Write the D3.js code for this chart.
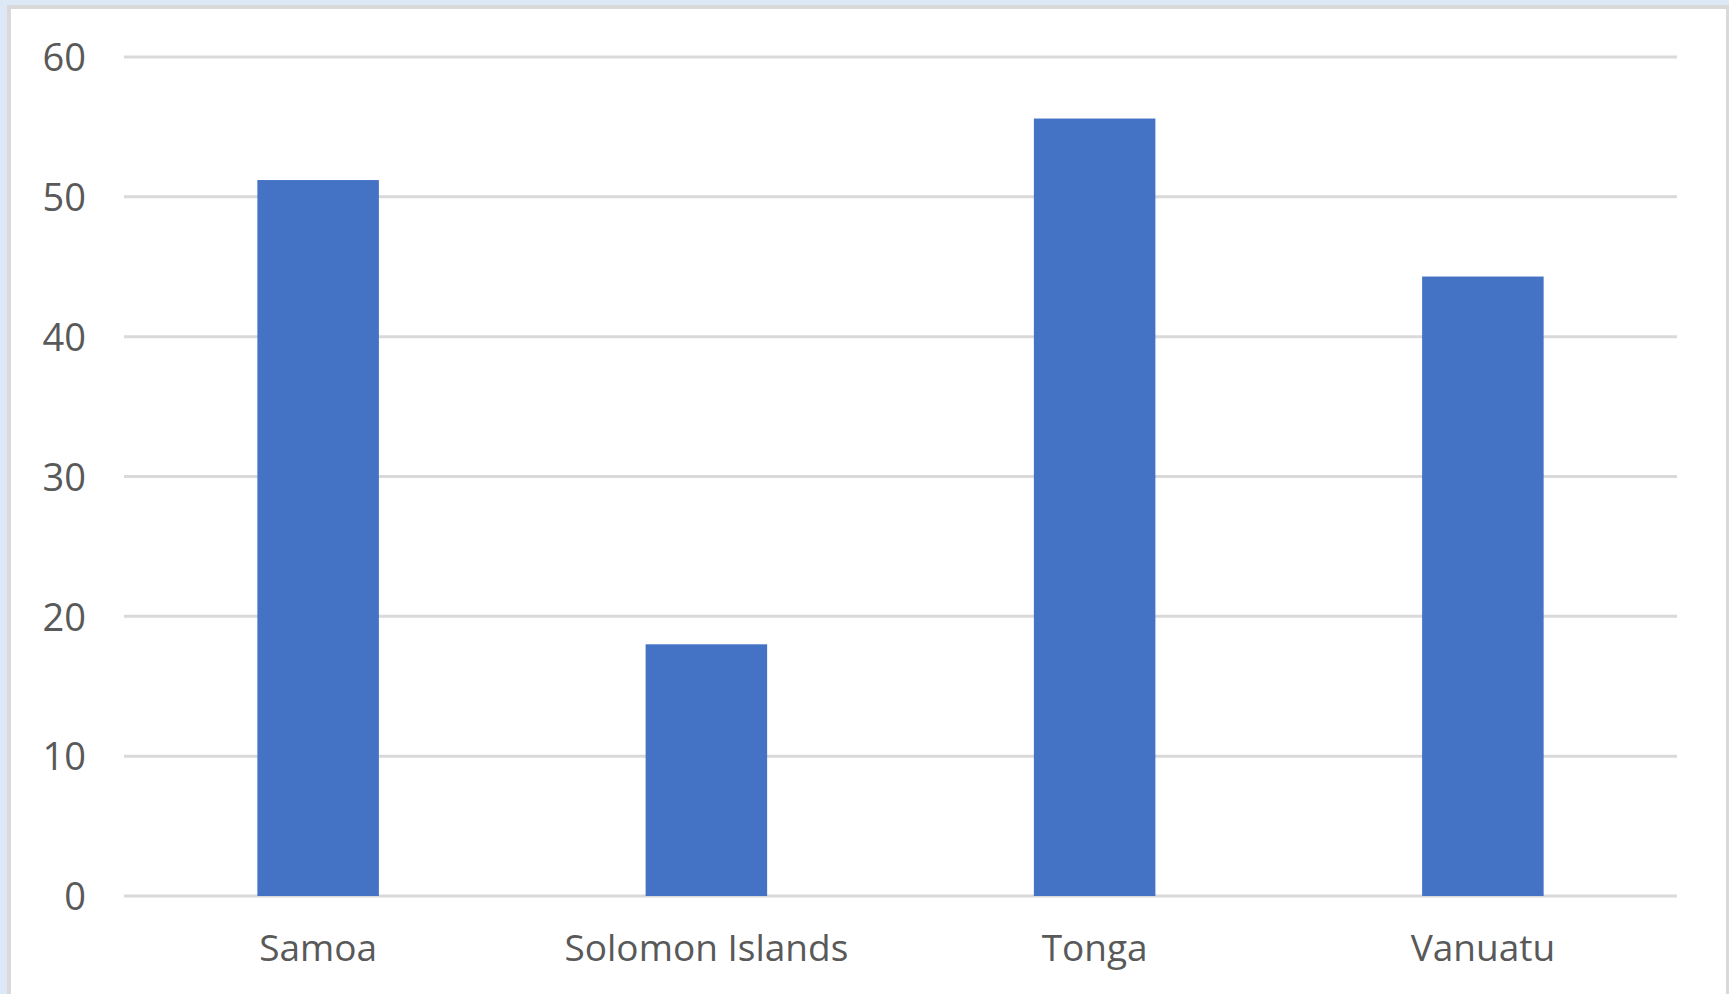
<!DOCTYPE html>
<html>
<head>
<meta charset="utf-8">
<script src="https://cdn.jsdelivr.net/npm/d3@7/dist/d3.min.js"></script>
<style>
  html, body { margin: 0; padding: 0; background: #dce8f5; overflow: hidden; }
  svg { display: block; }
  .axis text { font-family: "Open Sans", "Noto Sans", sans-serif; fill: #595959; }
</style>
</head>
<body>
<div id="chart"></div>
<script>
// values
var countries = ["Samoa", "Solomon Islands", "Tonga", "Vanuatu"];
var values = [51.2, 18.0, 55.6, 44.3];
var yTicks = [0, 10, 20, 30, 40, 50, 60];

var W = 1729, H = 994;
var margin = {top: 57, right: 52, bottom: 98, left: 124},
    width = W - margin.left - margin.right,
    height = H - margin.top - margin.bottom;

var svg = d3.select("#chart").append("svg")
    .attr("width", W)
    .attr("height", H);

// white panel with light grey frame
svg.append("rect")
    .attr("x", 9).attr("y", 7)
    .attr("width", W - 9 - 1)
    .attr("height", H)
    .attr("fill", "#fff")
    .attr("stroke", "#d9d9d9")
    .attr("stroke-width", 4);

var g = svg.append("g")
    .attr("transform", "translate(" + margin.left + "," + margin.top + ")");

var x = d3.scaleBand()
    .domain(countries)
    .range([0, width])
    .paddingInner(0.687)
    .paddingOuter(0.3435);

var y = d3.scaleLinear()
    .domain([0, 60])
    .range([height, 0]);

// gridlines
g.append("g")
    .selectAll("line")
    .data(yTicks)
    .enter().append("line")
      .attr("x1", 0)
      .attr("x2", width)
      .attr("y1", function(d) { return y(d); })
      .attr("y2", function(d) { return y(d); })
      .attr("stroke", "#d9d9d9")
      .attr("stroke-width", 3);

g.append("g")
    .selectAll("rect")
    .data(values)
    .enter().append("rect")
      .attr("x", function(d, i) { return x(countries[i]); })
      .attr("y", function(d) { return y(d); })
      .attr("width", x.bandwidth())
      .attr("height", function(d) { return height - y(d); })
      .attr("fill", "#4472c4");

var yAxis = g.append("g")
    .attr("class", "axis")
    .call(d3.axisLeft(y).tickValues(yTicks).tickSize(0).tickPadding(38));
yAxis.select(".domain").remove();
yAxis.selectAll("text").attr("font-size", 38).attr("dy", "0.36em");

var xAxis = g.append("g")
    .attr("class", "axis")
    .attr("transform", "translate(0," + height + ")")
    .call(d3.axisBottom(x).tickSize(0).tickPadding(39));
xAxis.select(".domain").remove();
xAxis.selectAll("text").attr("font-size", 37).attr("dy", "0.71em");
</script>
</body>
</html>
